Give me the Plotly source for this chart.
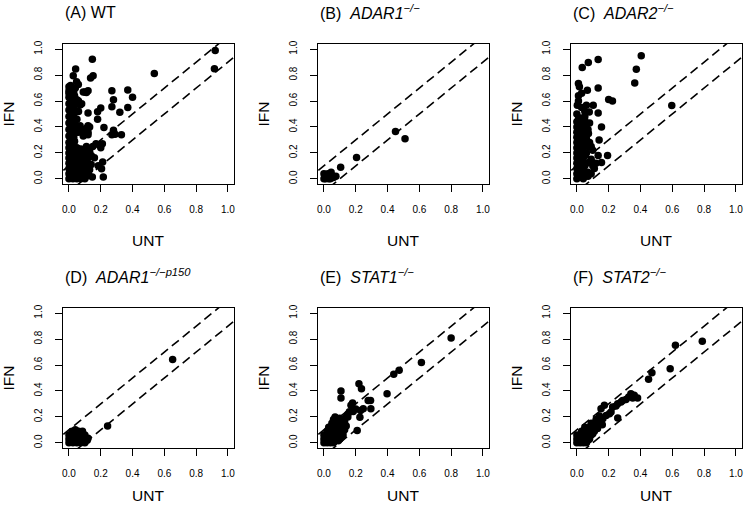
import plotly.graph_objects as go

W, H = 745, 509

# ---------------- data ----------------
titles = [
    "(A) WT",
    "(B)  <i>ADAR1</i><sup><i>\u2212/\u2212</i></sup>",
    "(C)  <i>ADAR2</i><sup><i>\u2212/\u2212</i></sup>",
    "(D)  <i>ADAR1</i><sup><i>\u2212/\u2212p150</i></sup>",
    "(E)  <i>STAT1</i><sup><i>\u2212/\u2212</i></sup>",
    "(F)  <i>STAT2</i><sup><i>\u2212/\u2212</i></sup>",
]
x_label = "UNT"
y_label = "IFN"
tick_vals = [0.0, 0.2, 0.4, 0.6, 0.8, 1.0]
tick_text = ["0.0", "0.2", "0.4", "0.6", "0.8", "1.0"]
line_offsets = [0.1, -0.1]

A_x = [0.92, 0.915, 0.537, 0.147, 0.042, 0.027, 0.136, 0.152, 0.048, 0.059, 0.12, 0.10, 0.27, 0.37,
       0.28, 0.40, 0.27, 0.37, 0.32, 0.20, 0.18, 0.12, 0.18, 0.06, 0.07, 0.12, 0.13, 0.22, 0.28, 0.29,
       0.33, 0.27, 0.15, 0.17, 0.19, 0.21, 0.20, 0.14, 0.16, 0.205, 0.216, 0.147, 0.212, 0.184, 0.10,
       0.12, 0.09, 0.11, 0.05, 0.08, 0.06, 0.07, 0.01, 0.0, 0.04,
       0.0, 0.0, 0.0, 0.0, 0.0, 0.0, 0.0, 0.0, 0.0, 0.0,
       0.02, 0.02, 0.02, 0.02, 0.02, 0.02, 0.02, 0.02, 0.02,
       0.035, 0.035, 0.035, 0.04, 0.035, 0.04, 0.035,
       0.01, 0.01, 0.01, 0.01, 0.01, 0.01, 0.01, 0.01, 0.01,
       0.03, 0.03, 0.03, 0.03, 0.03, 0.03, 0.03, 0.03,
       0.06, 0.08, 0.10, 0.12, 0.07, 0.05, 0.09, 0.11, 0.06, 0.05,
       0.0, 0.025, 0.05, 0.075, 0.10, 0.0, 0.025, 0.05, 0.075, 0.10, 0.12,
       0.0, 0.025, 0.05, 0.075, 0.10, 0.0, 0.025, 0.05, 0.075, 0.10, 0.13,
       0.0, 0.025, 0.05, 0.075, 0.10, 0.0, 0.025, 0.05, 0.075, 0.10,
       0.0, 0.025, 0.05, 0.075, 0.09, 0.11, 0.13, 0.12, 0.14,
       0.0125, 0.0375, 0.0625, 0.0875, 0.11, 0.0125, 0.0375, 0.0625, 0.0875, 0.11,
       0.0125, 0.0375, 0.0625, 0.0875, 0.11, 0.0125, 0.0375, 0.0625, 0.0875, 0.11,
       0.0125, 0.0375, 0.0625, 0.0875, 0.115, 0.0125, 0.0375, 0.0625, 0.0875, 0.10]
A_y = [0.99, 0.85, 0.812, 0.922, 0.847, 0.795, 0.778, 0.795, 0.748, 0.727, 0.68, 0.67, 0.68, 0.685,
       0.61, 0.63, 0.555, 0.55, 0.514, 0.547, 0.518, 0.508, 0.46, 0.60, 0.57, 0.41, 0.40, 0.395, 0.374,
       0.343, 0.34, 0.34, 0.25, 0.27, 0.26, 0.27, 0.24, 0.18, 0.163, 0.078, 0.014, 0.014, 0.13, 0.10,
       0.37, 0.36, 0.67, 0.665, 0.61, 0.58, 0.59, 0.575, 0.69, 0.66, 0.70,
       0.28, 0.33, 0.38, 0.43, 0.48, 0.53, 0.58, 0.63, 0.68, 0.71,
       0.26, 0.31, 0.36, 0.41, 0.46, 0.51, 0.56, 0.61, 0.65,
       0.29, 0.35, 0.40, 0.45, 0.53, 0.58, 0.64,
       0.30, 0.355, 0.405, 0.455, 0.505, 0.555, 0.605, 0.655, 0.72,
       0.27, 0.32, 0.38, 0.43, 0.49, 0.55, 0.61, 0.67,
       0.36, 0.38, 0.37, 0.34, 0.41, 0.46, 0.33, 0.39, 0.52, 0.40,
       0.0, 0.0, 0.0, 0.0, 0.0, 0.04, 0.04, 0.04, 0.04, 0.04, 0.03,
       0.08, 0.08, 0.08, 0.08, 0.08, 0.12, 0.12, 0.12, 0.12, 0.12, 0.07,
       0.16, 0.16, 0.16, 0.16, 0.16, 0.20, 0.20, 0.20, 0.20, 0.19,
       0.24, 0.24, 0.24, 0.23, 0.22, 0.25, 0.21, 0.16, 0.11,
       0.02, 0.02, 0.02, 0.02, 0.02, 0.06, 0.06, 0.06, 0.06, 0.06,
       0.10, 0.10, 0.10, 0.10, 0.10, 0.14, 0.14, 0.14, 0.14, 0.14,
       0.18, 0.18, 0.18, 0.18, 0.18, 0.22, 0.22, 0.22, 0.22, 0.21]

B_x = [0.45, 0.51, 0.205, 0.105, 0.0, 0.01, 0.02, 0.03, 0.045, 0.05, 0.06, 0.075, 0.0, 0.015,
       0.035, 0.04, 0.01, 0.025]
B_y = [0.365, 0.31, 0.165, 0.09, 0.04, 0.0, 0.03, 0.0, 0.05, 0.02, 0.01, 0.02, 0.0, 0.01,
       0.02, 0.0, 0.02, 0.04]

C_x = [0.405, 0.374, 0.364, 0.134, 0.072, 0.034, 0.134, 0.597, 0.20, 0.224, 0.01, 0.016, 0.066,
       0.01, 0.03, 0.003, 0.06, 0.103, 0.078, 0.134, 0.155, 0.14, 0.134, 0.193, 0.155, 0.073,
       0.0, 0.0, 0.0, 0.0, 0.0, 0.0, 0.0, 0.0, 0.0, 0.0, 0.0, 0.0, 0.0,
       0.02, 0.02, 0.02, 0.02, 0.02, 0.02, 0.02, 0.02, 0.02, 0.02, 0.02,
       0.04, 0.04, 0.04, 0.04, 0.04, 0.04, 0.04, 0.04, 0.04, 0.04,
       0.01, 0.01, 0.01, 0.01, 0.01, 0.01, 0.01, 0.01, 0.01, 0.01, 0.01, 0.01,
       0.03, 0.03, 0.03, 0.03, 0.03, 0.03, 0.03, 0.03, 0.03, 0.03, 0.03,
       0.05, 0.05, 0.05, 0.05, 0.05, 0.05, 0.05, 0.05,
       0.06, 0.07, 0.08, 0.06, 0.09, 0.10, 0.07, 0.11, 0.12, 0.10, 0.08, 0.05, 0.06, 0.09,
       0.07, 0.08, 0.06, 0.09, 0.07,
       0.03, 0.01, 0.05, 0.02]
C_y = [0.949, 0.846, 0.74, 0.92, 0.897, 0.858, 0.701, 0.565, 0.611, 0.601, 0.735, 0.71, 0.684,
       0.64, 0.66, 0.567, 0.567, 0.567, 0.516, 0.508, 0.40, 0.30, 0.18, 0.18, 0.125, 0.35,
       0.0, 0.04, 0.08, 0.12, 0.16, 0.20, 0.24, 0.28, 0.32, 0.36, 0.40, 0.44, 0.50,
       0.02, 0.06, 0.10, 0.14, 0.18, 0.22, 0.26, 0.30, 0.34, 0.38, 0.42,
       0.0, 0.04, 0.08, 0.12, 0.16, 0.20, 0.24, 0.28, 0.36, 0.44,
       0.02, 0.06, 0.10, 0.14, 0.18, 0.22, 0.26, 0.30, 0.34, 0.38, 0.42, 0.46,
       0.02, 0.06, 0.10, 0.14, 0.18, 0.22, 0.26, 0.30, 0.34, 0.40, 0.44,
       0.02, 0.10, 0.18, 0.26, 0.32, 0.38, 0.41, 0.45,
       0.42, 0.38, 0.28, 0.20, 0.15, 0.10, 0.05, 0.08, 0.12, 0.22, 0.43, 0.52, 0.31, 0.25,
       0.02, 0.13, 0.12, 0.04, 0.25,
       0.55, 0.60, 0.48, 0.47]

D_x = [0.652, 0.243,
       0.0, 0.025, 0.05, 0.075, 0.10, 0.0, 0.025, 0.05, 0.075, 0.10, 0.115,
       0.0, 0.025, 0.05, 0.075, 0.10, 0.02, 0.04, 0.06, 0.085, 0.12,
       0.0125, 0.0375, 0.0625, 0.0875, 0.0125, 0.0375, 0.0625, 0.0875]
D_y = [0.642, 0.129,
       0.0, 0.0, 0.0, 0.0, 0.0, 0.03, 0.03, 0.03, 0.03, 0.03, 0.02,
       0.06, 0.06, 0.06, 0.06, 0.06, 0.09, 0.10, 0.09, 0.09, 0.035,
       0.015, 0.015, 0.015, 0.015, 0.045, 0.045, 0.045, 0.045]

E_x = [0.80, 0.613, 0.473, 0.439, 0.397, 0.22, 0.236, 0.107, 0.107, 0.278, 0.293, 0.295, 0.247,
       0.23, 0.18, 0.17, 0.184, 0.226, 0.209, 0.15, 0.14, 0.07, 0.12, 0.20, 0.16,
       0.0, 0.02, 0.04, 0.06, 0.0, 0.02, 0.04, 0.06, 0.08, 0.10, 0.0, 0.02, 0.04, 0.06, 0.08,
       0.10, 0.12, 0.02, 0.04, 0.06, 0.08, 0.10, 0.03, 0.05, 0.07, 0.09, 0.11, 0.13, 0.05,
       0.07, 0.09, 0.12, 0.06, 0.10, 0.14,
       0.01, 0.03, 0.05, 0.07, 0.09, 0.01, 0.03, 0.05, 0.07, 0.09, 0.11, 0.04, 0.08, 0.12,
       0.13, 0.15, 0.11, 0.08]
E_y = [0.809, 0.619, 0.559, 0.528, 0.379, 0.456, 0.418, 0.399, 0.345, 0.327, 0.327, 0.263, 0.263,
       0.25, 0.307, 0.29, 0.242, 0.198, 0.095, 0.22, 0.20, 0.20, 0.18, 0.26, 0.24,
       0.0, 0.0, 0.0, 0.0, 0.03, 0.03, 0.02, 0.02, 0.02, 0.03, 0.06, 0.06, 0.05, 0.05, 0.05,
       0.06, 0.06, 0.09, 0.09, 0.08, 0.08, 0.09, 0.12, 0.12, 0.11, 0.12, 0.12, 0.10, 0.15,
       0.15, 0.16, 0.15, 0.18, 0.19, 0.13,
       0.015, 0.015, 0.015, 0.015, 0.015, 0.045, 0.045, 0.04, 0.035, 0.04, 0.045, 0.075,
       0.07, 0.09, 0.16, 0.2, 0.155, 0.13]

F_x = [0.789, 0.62, 0.587, 0.472, 0.451, 0.34, 0.361, 0.382, 0.351, 0.326, 0.309, 0.288, 0.278,
       0.257, 0.246, 0.225, 0.215, 0.205, 0.184, 0.163, 0.152, 0.173, 0.257, 0.121, 0.142,
       0.0, 0.02, 0.04, 0.06, 0.0, 0.02, 0.04, 0.06, 0.08, 0.0, 0.02, 0.04, 0.06, 0.08, 0.10,
       0.03, 0.05, 0.07, 0.09, 0.11, 0.05, 0.08, 0.10, 0.12, 0.14, 0.09, 0.12, 0.15,
       0.01, 0.03, 0.05, 0.07, 0.01, 0.03, 0.05, 0.07, 0.09, 0.11, 0.13, 0.16]
F_y = [0.784, 0.753, 0.572, 0.541, 0.49, 0.379, 0.366, 0.345, 0.345, 0.353, 0.335, 0.327, 0.314,
       0.302, 0.284, 0.276, 0.237, 0.224, 0.211, 0.186, 0.263, 0.289, 0.191, 0.18, 0.206,
       0.0, 0.0, 0.0, 0.0, 0.03, 0.03, 0.02, 0.03, 0.03, 0.06, 0.06, 0.05, 0.05, 0.06, 0.07,
       0.09, 0.09, 0.08, 0.09, 0.10, 0.12, 0.12, 0.12, 0.13, 0.15, 0.15, 0.16, 0.17,
       0.015, 0.015, 0.015, 0.02, 0.045, 0.045, 0.04, 0.045, 0.06, 0.09, 0.11, 0.14]

panels = [(A_x, A_y), (B_x, B_y), (C_x, C_y), (D_x, D_y), (E_x, E_y), (F_x, F_y)]

# ---------------- layout geometry (pixels) ----------------
col_left = [62.6, 317.6, 570.5]
box_w = 171.7
row_top = [44.0, 308.0]
box_h = 140.0
xr = [-0.04, 1.04]

FONT = "Liberation Sans, Arial, Helvetica, sans-serif"

fig = go.Figure()
layout = dict(
    width=W, height=H,
    margin=dict(l=0, r=0, t=0, b=0, autoexpand=False),
    paper_bgcolor="white", plot_bgcolor="white",
    showlegend=False,
    font=dict(family=FONT, color="black"),
)
annotations = []

for i, (xs, ys) in enumerate(panels):
    r, c = divmod(i, 3)
    n = "" if i == 0 else str(i + 1)
    L = col_left[c]
    T = row_top[r]
    xdom = [L / W, min((L + box_w) / W, 1.0)]
    ydom = [1 - (T + box_h) / H, 1 - T / H]
    common = dict(
        range=xr, showgrid=False, zeroline=False,
        showline=True, mirror=True, linecolor="black", linewidth=1,
        ticks="outside", ticklen=7, tickwidth=1, tickcolor="black",
        tickvals=tick_vals, ticktext=tick_text,
        tickfont=dict(family=FONT, size=10, color="black"),
    )
    layout["xaxis" + n] = dict(common, domain=xdom, anchor="y" + n, ticklabelstandoff=9)
    layout["yaxis" + n] = dict(common, domain=ydom, anchor="x" + n, tickangle=-90,
                               ticklabelstandoff=9)
    # dashed reference lines y = x +/- offset
    for off in line_offsets:
        lx = [xr[0] - 0.2, xr[1] + 0.2]
        fig.add_trace(go.Scatter(
            x=lx, y=[v + off for v in lx], mode="lines",
            line=dict(color="black", width=1.6, dash="9px,5px"),
            xaxis="x" + n, yaxis="y" + n, hoverinfo="skip"))
    fig.add_trace(go.Scatter(
        x=xs, y=ys, mode="markers",
        marker=dict(color="black", size=7.5, line=dict(width=0)),
        xaxis="x" + n, yaxis="y" + n, cliponaxis=False))
    # title
    annotations.append(dict(
        text=titles[i], xref="paper", yref="paper",
        x=L / W, y=1 - (T - 32) / H, xanchor="left", yanchor="middle",
        showarrow=False, font=dict(family=FONT, size=16, color="black")))
    # axis titles
    annotations.append(dict(
        text=x_label, xref="paper", yref="paper",
        x=(L + box_w / 2) / W, y=1 - (T + box_h + (56 if r == 0 else 47)) / H,
        xanchor="center", yanchor="middle", showarrow=False,
        font=dict(family=FONT, size=15.5, color="black")))
    annotations.append(dict(
        text=y_label, xref="paper", yref="paper",
        x=(L - 55) / W, y=1 - (T + box_h / 2) / H,
        xanchor="center", yanchor="middle", textangle=-90, showarrow=False,
        font=dict(family=FONT, size=15.5, color="black")))

layout["annotations"] = annotations
fig.update_layout(**layout)
fig.write_html("out.html", config={"displayModeBar": False},
               post_script="document.body.style.margin='0';")
